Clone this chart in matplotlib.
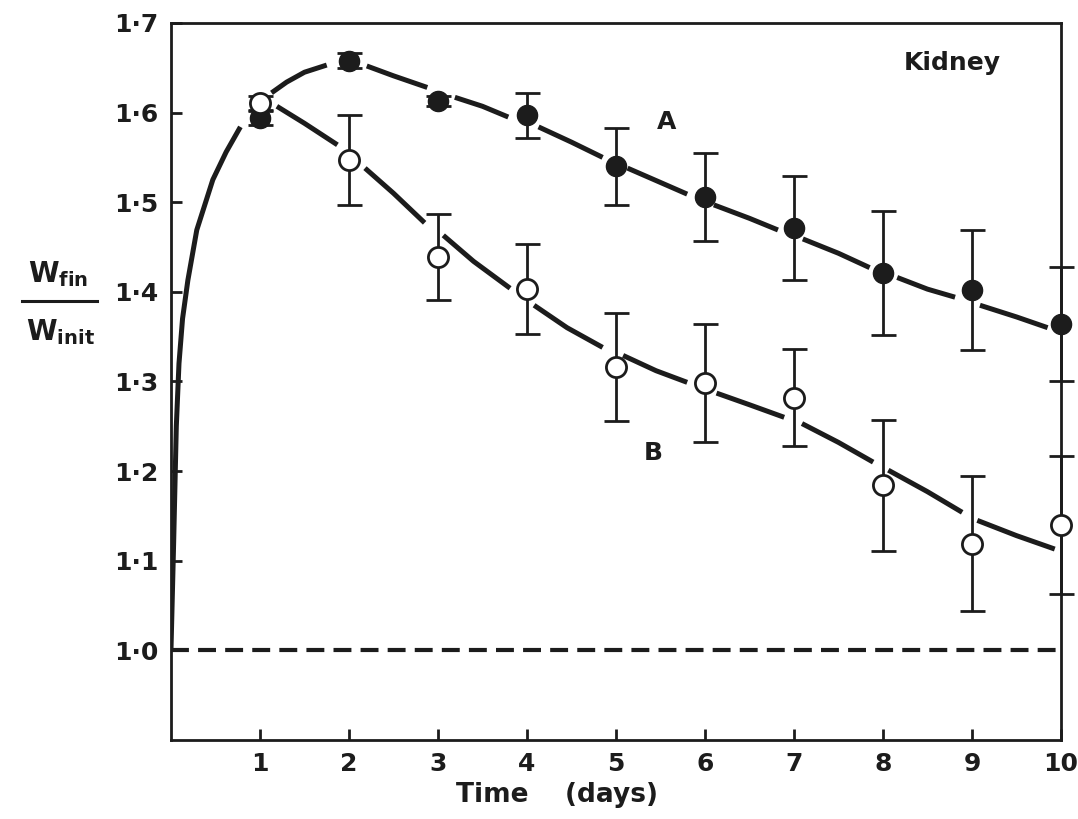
# Kidney: Wfin/Winit ueber die Zeit, Kurven A und B
import matplotlib
matplotlib.use("Agg")
import matplotlib.pyplot as plt

INK = "#1c1c1c"
plt.rcParams["font.family"] = ["DejaVu Sans"]
plt.rcParams["font.weight"] = "bold"
plt.rcParams["mathtext.default"] = "bf"

# Messpunkte (Tage, Mittelwert, Fehler)
days = [1, 2, 3, 4, 5, 6, 7, 8, 9, 10]
a_mean = [1.594, 1.658, 1.613, 1.597, 1.540, 1.506, 1.471, 1.421, 1.402, 1.364]
a_err = [0.008, 0.008, 0.006, 0.025, 0.043, 0.049, 0.058, 0.069, 0.067, 0.064]
b_mean = [1.611, 1.547, 1.439, 1.403, 1.316, 1.298, 1.282, 1.184, 1.119, 1.140]
b_err = [0.008, 0.050, 0.048, 0.050, 0.060, 0.066, 0.054, 0.073, 0.075, 0.077]

# Anstieg (gemeinsam fuer A und B)
rise_x = [0.0, 0.03, 0.06, 0.09, 0.13, 0.19, 0.29, 0.47, 0.62, 0.78]
rise_y = [1.0, 1.12, 1.25, 1.32, 1.37, 1.413, 1.469, 1.525, 1.556, 1.584]

# Kurvenstuecke, zwischen den Punkten unterbrochen
a_segments = [
    ([1.13, 1.3, 1.5, 1.75], [1.622, 1.634, 1.645, 1.653]),
    ([2.2, 2.5, 2.88], [1.652, 1.641, 1.628]),
    ([3.19, 3.5, 3.79], [1.617, 1.607, 1.595]),
    ([4.13, 4.5, 4.85], [1.584, 1.567, 1.550]),
    ([5.13, 5.5, 5.8], [1.538, 1.522, 1.509]),
    ([6.1, 6.5, 6.82], [1.497, 1.482, 1.469]),
    ([7.1, 7.5, 7.85], [1.459, 1.443, 1.427]),
    ([8.16, 8.5, 8.81], [1.416, 1.403, 1.394]),
    ([9.09, 9.5, 9.85], [1.385, 1.372, 1.360]),
]
b_segments = [
    ([1.19, 1.5, 1.87], [1.607, 1.588, 1.564]),
    ([2.18, 2.5, 2.85], [1.538, 1.510, 1.477]),
    ([3.06, 3.4, 3.81], [1.463, 1.434, 1.404]),
    ([4.08, 4.45, 4.85], [1.385, 1.360, 1.338]),
    ([5.08, 5.45, 5.8], [1.329, 1.312, 1.299]),
    ([6.13, 6.5, 6.89], [1.287, 1.274, 1.260]),
    ([7.09, 7.5, 7.89], [1.253, 1.232, 1.210]),
    ([8.06, 8.5, 8.89], [1.201, 1.177, 1.154]),
    ([9.06, 9.5, 9.93], [1.145, 1.128, 1.113]),
]

y_ticks = [1.0, 1.1, 1.2, 1.3, 1.4, 1.5, 1.6, 1.7]
y_labels = ["1·0", "1·1", "1·2", "1·3", "1·4", "1·5", "1·6", "1·7"]

fig = plt.figure(figsize=(10.78, 8.19), dpi=100)
ax = fig.add_axes([0.1586, 0.0965, 0.8256, 0.8755])

# Grundlinie
ax.axhline(1.0, color=INK, lw=3, ls=(0, (4.3, 2.2)), zorder=1)

ax.plot(rise_x, rise_y, color=INK, lw=3.6, solid_capstyle="butt", zorder=2)
for sx, sy in a_segments + b_segments:
    ax.plot(sx, sy, color=INK, lw=3.6, solid_capstyle="butt", zorder=2)

ax.errorbar(days, a_mean, yerr=a_err, fmt="none", ecolor=INK, elinewidth=2,
            capsize=9, capthick=2, clip_on=False, zorder=3)
ax.errorbar(days, b_mean, yerr=b_err, fmt="none", ecolor=INK, elinewidth=2,
            capsize=9, capthick=2, clip_on=False, zorder=3)
ax.plot(days, a_mean, "o", ms=14.5, mfc=INK, mec=INK, clip_on=False, zorder=5)
ax.plot(days, b_mean, "o", ms=14.5, mfc="white", mec=INK, mew=2,
        clip_on=False, zorder=5)

ax.set_xlim(0, 10)
ax.set_ylim(0.9, 1.7)
ax.set_xticks(days)
ax.set_xticklabels([str(d) for d in days])
ax.set_yticks(y_ticks)
ax.set_yticklabels(y_labels)
ax.tick_params(direction="in", length=8, width=2, labelsize=18, colors=INK,
               pad=9)
for sp in ax.spines.values():
    sp.set_linewidth(2)
    sp.set_color(INK)

ax.text(5.57, 1.589, "A", fontsize=18, color=INK, ha="center", va="center")
ax.text(5.42, 1.22, "B", fontsize=18, color=INK, ha="center", va="center")
ax.text(8.78, 1.655, "Kidney", fontsize=18, color=INK, ha="center",
        va="center")

fig.text(0.517, 0.029, "Time    (days)", fontsize=19, color=INK,
         ha="center", va="center")

# y-Beschriftung als Bruch
fig.text(0.054, 0.665, r"W$_{\mathbf{fin}}$", fontsize=20, color=INK,
         ha="center", va="center")
fig.text(0.056, 0.595, r"W$_{\mathbf{init}}$", fontsize=20, color=INK,
         ha="center", va="center")
fig.add_artist(plt.Line2D([0.02, 0.09], [0.633, 0.633], color=INK, lw=2.2,
                          transform=fig.transFigure))

fig.savefig("out.png", dpi=100, facecolor="white")
